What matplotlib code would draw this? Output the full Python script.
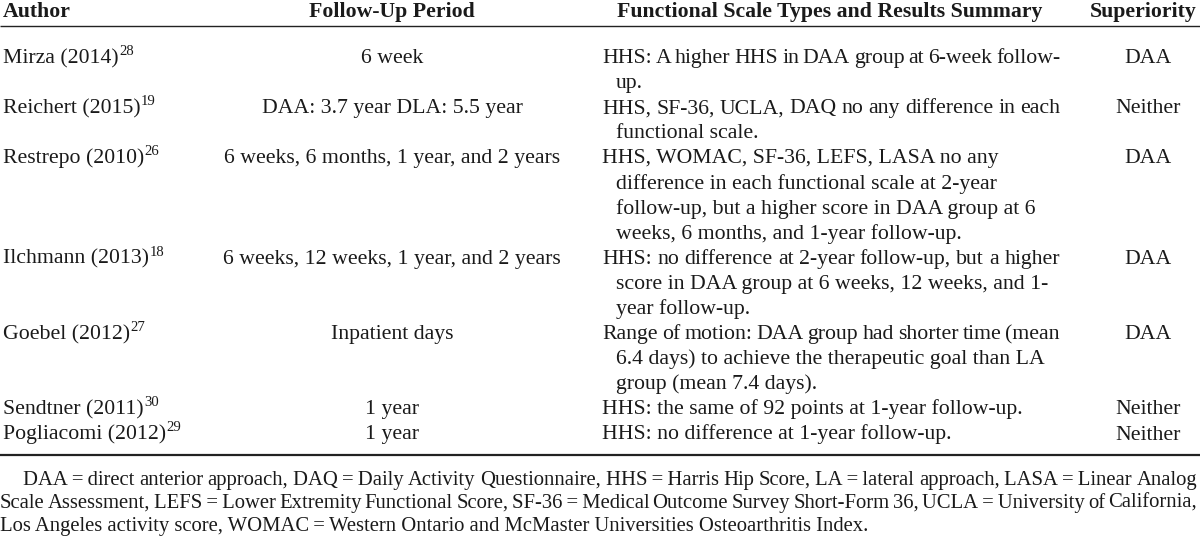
import matplotlib
matplotlib.use('Agg')
import matplotlib.pyplot as plt

# ---------------- data ----------------
headers = ["Author", "Follow-Up Period", "Functional Scale Types and Results Summary", "Superiority"]
authors = ["Mirza (2014)", "Reichert (2015)", "Restrepo (2010)", "Ilchmann (2013)",
           "Goebel (2012)", "Sendtner (2011)", "Pogliacomi (2012)"]
refs = ["28", "19", "26", "18", "27", "30", "29"]
follow_up = ["6 week", "DAA: 3.7 year DLA: 5.5 year", "6 weeks, 6 months, 1 year, and 2 years",
             "6 weeks, 12 weeks, 1 year, and 2 years", "Inpatient days", "1 year", "1 year"]
summaries = [
    ["HHS: A higher HHS in DAA group at 6-week follow-", "up."],
    ["HHS, SF-36, UCLA, DAQ no any difference in each", "functional scale."],
    ["HHS, WOMAC, SF-36, LEFS, LASA no any", "difference in each functional scale at 2-year",
     "follow-up, but a higher score in DAA group at 6", "weeks, 6 months, and 1-year follow-up."],
    ["HHS: no difference at 2-year follow-up, but a higher", "score in DAA group at 6 weeks, 12 weeks, and 1-",
     "year follow-up."],
    ["Range of motion: DAA group had shorter time (mean", "6.4 days) to achieve the therapeutic goal than LA",
     "group (mean 7.4 days)."],
    ["HHS: the same of 92 points at 1-year follow-up."],
    ["HHS: no difference at 1-year follow-up."],
]
superiority = ["DAA", "Neither", "DAA", "DAA", "DAA", "Neither", "Neither"]
T = "\u2009=\u2009"
footnote = [
    f"DAA{T}direct anterior approach, DAQ{T}Daily Activity Questionnaire, HHS{T}Harris Hip Score, LA{T}lateral approach, LASA{T}Linear Analog",
    f"Scale Assessment, LEFS{T}Lower Extremity Functional Score, SF-36{T}Medical Outcome Survey Short-Form 36, UCLA{T}University of California,",
    f"Los Angeles activity score, WOMAC{T}Western Ontario and McMaster Universities Osteoarthritis Index.",
]

# ---------------- layout ----------------
W, H, DPI = 1200, 536, 100
FONT = ['Liberation Serif', 'DejaVu Serif']
COLOR = '#1a1a1a'
fig = plt.figure(figsize=(W / DPI, H / DPI), dpi=DPI)
ax = fig.add_axes([0, 0, 1, 1])
ax.set_xlim(0, W)
ax.set_ylim(H, 0)
ax.axis('off')
renderer = fig.canvas.get_renderer()


def twidth(s, size, weight='normal'):
    t = ax.text(0, 0, s, fontsize=size, family=FONT, weight=weight)
    w = t.get_window_extent(renderer).width
    t.remove()
    return w


def put(x, y, s, size, ha='left', weight='normal'):
    ax.text(x, y, s, fontsize=size, family=FONT, weight=weight, ha=ha, va='baseline', color=COLOR)


def put_words(x0, x1, y, s, size):
    """Place words so the line spans exactly x0..x1 (justified)."""
    words = s.split(' ')
    widths = [twidth(w, size) for w in words]
    gap = (x1 - x0 - sum(widths)) / max(len(words) - 1, 1)
    x = x0
    for w, ww in zip(words, widths):
        put(x, y, w, size)
        x += ww + gap


# font size fitted to reference text widths
FS = 1.035 * 10 * 453 / twidth(summaries[0][0], 10)
FN = 10 * 871 / twidth(footnote[2], 10)
SUP = FS * 0.68

X_AUTH = 3
X_FU = 392
X_SUM = 602
X_SUM_R = 1060
INDENT = 14
X_SUP = 1148
HDR_BASE = 17
BASE0 = 63
LSTEP = 25.1

# header
put(X_AUTH, HDR_BASE, headers[0], FS, weight='bold')
put(X_FU, HDR_BASE, headers[1], FS, ha='center', weight='bold')
put(830, HDR_BASE, headers[2], FS, ha='center', weight='bold')
put(1197, HDR_BASE, headers[3], FS, ha='right', weight='bold')
ax.plot([0, W], [25.5, 25.5], color='#222222', lw=1.0, solid_capstyle='butt')

line = 0
for a, r, f, summ, sup in zip(authors, refs, follow_up, summaries, superiority):
    y = BASE0 + line * LSTEP
    put(X_AUTH, y, a, FS)
    aw = twidth(a, FS)
    put(X_AUTH + aw + 0.5, y - FS * 0.52, r, SUP)
    put(X_FU, y, f, FS, ha='center')
    put(X_SUP, y, sup, FS, ha='center')
    for k, s in enumerate(summ):
        x0 = X_SUM + (INDENT if k else 0)
        yy = BASE0 + (line + k) * LSTEP
        if x0 + twidth(s, FS) > X_SUM_R:
            put_words(x0, X_SUM_R, yy, s, FS)
        else:
            put(x0, yy, s, FS)
    line += len(summ)

ax.plot([0, W], [455, 455], color='#222222', lw=1.6, solid_capstyle='butt')

# footnote (first two lines justified)
FOOT_BASE = [485, 508, 531]
for i, s in enumerate(footnote):
    left = 23 if i == 0 else 0
    if i < 2:
        put_words(left, 1197, FOOT_BASE[i], s, FN)
    else:
        put(left, FOOT_BASE[i], s, FN)

fig.savefig('out.png', dpi=DPI)
